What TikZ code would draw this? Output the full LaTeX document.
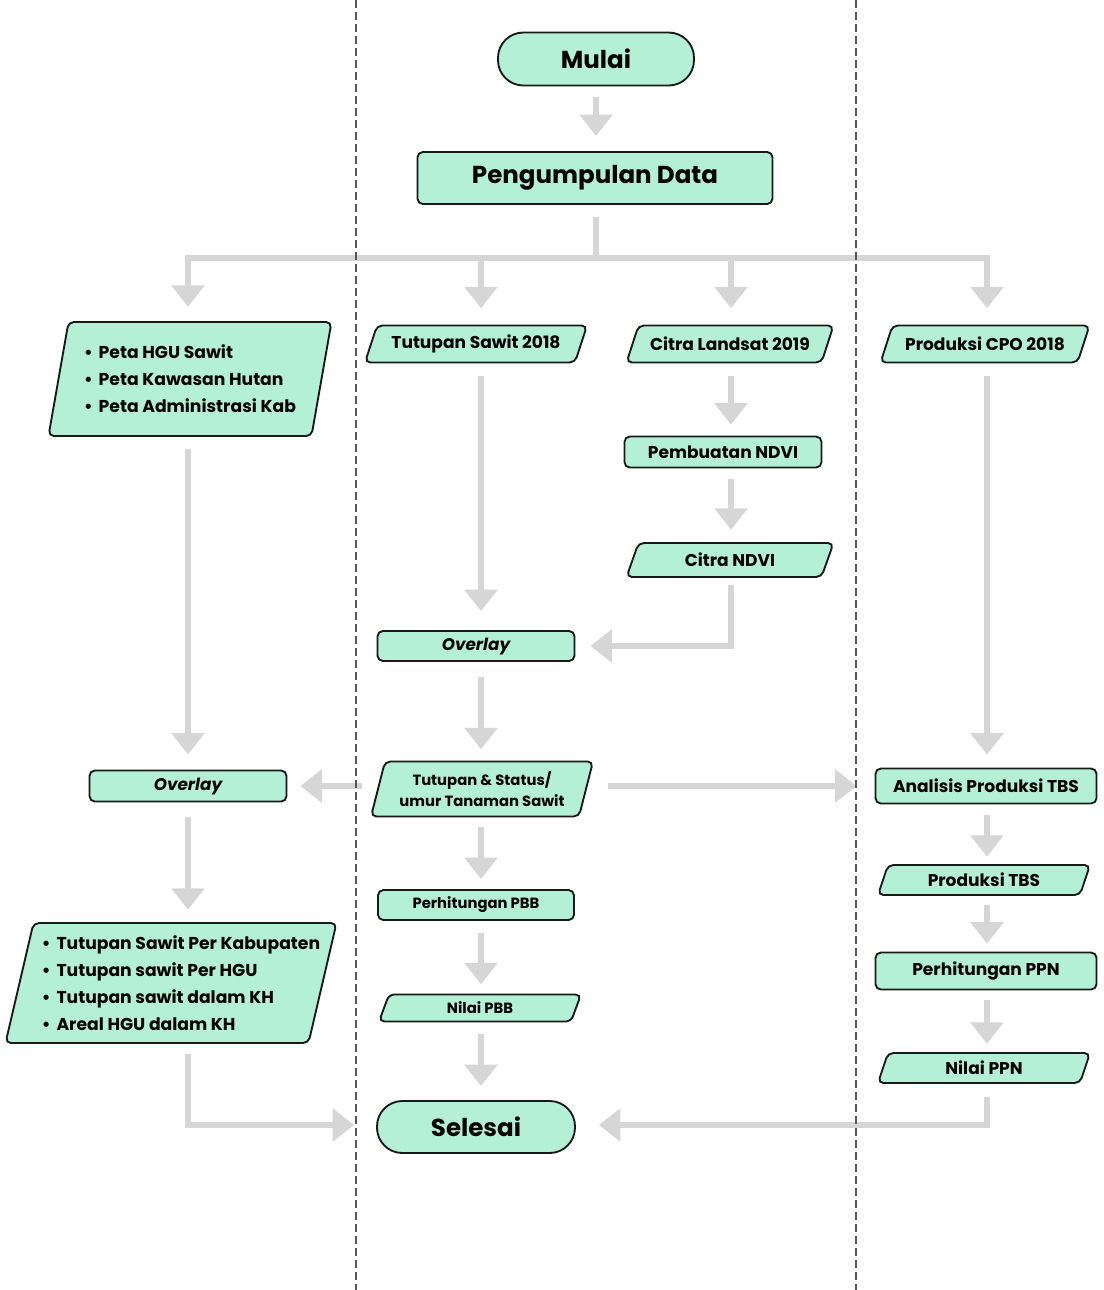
\documentclass[tikz,border=0pt]{standalone}
\usepackage{fontspec}
\setmainfont{Poppins}
\usetikzlibrary{arrows.meta,calc}
\definecolor{mint}{RGB}{180,240,214}
\definecolor{edgec}{RGB}{25,25,25}
\definecolor{arrc}{RGB}{214,214,214}
\definecolor{dashc}{RGB}{85,85,85}
\tikzset{
  boxline/.style={draw=edgec, line width=1.4pt, fill=mint},
  sz/.style 2 args={minimum width={(#1)*0.75pt}, minimum height={(#2)*0.75pt}},
  lbl/.style={inner sep=0pt, text=black, font=\bfseries\fontsize{12.8}{15}\selectfont, align=center},
  procbox/.style={boxline, rounded corners=4pt, lbl},
  termbox/.style={boxline, rounded corners=19pt, lbl, font=\bfseries\fontsize{18.4}{21}\selectfont},
  bigtxt/.style={font=\bfseries\fontsize{18.4}{21}\selectfont},
  smalltxt/.style={font=\bfseries\fontsize{11.1}{15.5}\selectfont},
  ovtxt/.style={font=\bfseries\itshape\fontsize{12.6}{15}\selectfont},
  listtxt/.style={font=\bfseries\fontsize{12.9}{20.25}\selectfont, align=left},
  arrowline/.style={draw=arrc, line width=4.5pt, -{Triangle[width=24pt,length=16pt]}},
  plainline/.style={draw=arrc, line width=4.5pt},
  divider/.style={draw=dashc, line width=1.5pt, dash pattern=on 6pt off 3pt},
}
% #1 style, #2 name, #3 cx, #4 cy, #5 edge width, #6 height, #7 slant, #8 text
\newcommand\pgram[8][]{%
  \path[boxline, rounded corners=4pt] ({#3-#5/2+#7/2},{#4-#6/2}) -- ({#3+#5/2+#7/2},{#4-#6/2}) -- ({#3+#5/2-#7/2},{#4+#6/2}) -- ({#3-#5/2-#7/2},{#4+#6/2}) -- cycle;
  \node[lbl, sz={#5}{#6}, #1] (#2) at (#3,#4) {#8};}
\newcommand\bl{\makebox[11pt][l]{•}}
\begin{document}
\begin{tikzpicture}[x=0.75pt, y=-0.75pt]
\useasboundingbox (0,0) rectangle (1104,1290);
\fill[white] (0,0) rectangle (1104,1290);

% --- nodes ---
\node[termbox, sz={196}{53}] (mulai) at (596,59) {Mulai};
\node[procbox, bigtxt, sz={355}{52}] (peng) at (595,178) {Pengumpulan Data};

\pgram[listtxt]{hgu}{190}{379}{263}{114}{20}{\bl Peta HGU Sawit\\\bl Peta Kawasan Hutan\\\bl Peta Administrasi Kab}
\pgram{ts18}{476}{344}{210}{37}{12}{Tutupan Sawit 2018}
\pgram{cl19}{730}{344}{195}{37}{12}{Citra Landsat 2019}
\pgram{cpo}{985}{344}{197}{37}{12}{Produksi CPO 2018}

\node[procbox, sz={197}{31}] (ndvi) at (723,452) {Pembuatan NDVI};
\pgram{cndvi}{730}{560}{195}{34}{12}{Citra NDVI}
\node[procbox, ovtxt, sz={197}{30}] (ov1) at (476,646) {Overlay};

\pgram[smalltxt]{tst}{482}{789}{208}{55}{14}{Tutupan \& Status/\\umur Tanaman Sawit}
\node[procbox, ovtxt, sz={197}{31}] (ov2) at (188,786) {Overlay};
\node[procbox, sz={221}{35}] (apt) at (986,786) {Analisis Produksi TBS};

\pgram[listtxt, xshift=7.5pt]{out}{171}{983}{303}{120}{28}{\bl Tutupan Sawit Per Kabupaten\\\bl Tutupan sawit Per HGU\\\bl Tutupan sawit dalam KH\\\bl Areal HGU dalam KH}

\node[procbox, smalltxt, sz={196}{30}] (pbb) at (476,905) {Perhitungan PBB};
\pgram[smalltxt]{npbb}{480}{1008}{192}{27}{10}{Nilai PBB}
\node[termbox, sz={198}{52}] (selesai) at (476,1127) {Selesai};

\pgram{ptbs}{984}{880}{202}{30}{10}{Produksi TBS}
\node[procbox, sz={221}{37}] (ppn) at (986,971) {Perhitungan PPN};
\pgram{nppn}{984}{1068}{202}{30}{10}{Nilai PPN}

% --- connectors ---
\coordinate (split) at (596,258);
\draw[arrowline] ($(mulai.south)+(0,11)$) -- ($(peng.north)+(1,-15)$);
\draw[plainline] ($(peng.south)+(1,12)$) -- (split);
\draw[arrowline] (split) -| ($(hgu.north)+(-2,-15)$);
\draw[arrowline] (split) -| ($(ts18.north)+(5,-17)$);
\draw[arrowline] (split) -| ($(cl19.north)+(1,-17)$);
\draw[arrowline] (split) -| ($(cpo.north)+(2,-17)$);

\draw[arrowline] ($(hgu.south)+(-2,13)$) -- ($(ov2.north)+(0,-15)$);
\draw[arrowline] ($(ts18.south)+(5,13)$) -- ($(ov1.north)+(5,-19)$);
\draw[arrowline] ($(cl19.south)+(1,13)$) -- ($(ndvi.north)+(8,-11)$);
\draw[arrowline] ($(ndvi.south)+(8,11)$) -- ($(cndvi.north)+(1,-13)$);
\draw[arrowline] ($(cndvi.south)+(1,8)$) |- ($(ov1.east)+(15,0)$);
\draw[arrowline] ($(ov1.south)+(5,15)$) -- ($(tst.north)+(-1,-12)$);
\draw[arrowline] ($(tst.west)+(-16,-3)$) -- ($(ov2.east)+(13,0)$);
\draw[arrowline] ($(tst.east)+(22,-3)$) -- ($(apt.west)+(-18,0)$);
\draw[arrowline] ($(cpo.south)+(2,13)$) -- ($(apt.north)+(1,-13)$);
\draw[arrowline] ($(ov2.south)+(0,15)$) -- ($(out.north)+(7,-13)$);
\draw[arrowline] ($(out.south)+(7,11)$) |- ($(selesai.west)+(-22,-2)$);
\draw[arrowline] ($(tst.south)+(-1,10)$) -- ($(pbb.north)+(5,-10)$);
\draw[arrowline] ($(pbb.south)+(5,12)$) -- ($(npbb.north)+(1,-10)$);
\draw[arrowline] ($(npbb.south)+(1,12)$) -- ($(selesai.north)+(5,-14)$);
\draw[arrowline] ($(apt.south)+(1,11)$) -- ($(ptbs.north)+(3,-8)$);
\draw[arrowline] ($(ptbs.south)+(3,10)$) -- ($(ppn.north)+(1,-8)$);
\draw[arrowline] ($(ppn.south)+(1,10)$) -- ($(nppn.north)+(3,-9)$);
\draw[arrowline] ($(nppn.south)+(3,14)$) |- ($(selesai.east)+(23,-2)$);

% --- dividers ---
\coordinate (d1t) at (356,0); \coordinate (d1b) at (356,1290);
\coordinate (d2t) at (856,0); \coordinate (d2b) at (856,1290);
\draw[divider] (d1t) -- (d1b);
\draw[divider] (d2t) -- (d2b);
\end{tikzpicture}
\end{document}
